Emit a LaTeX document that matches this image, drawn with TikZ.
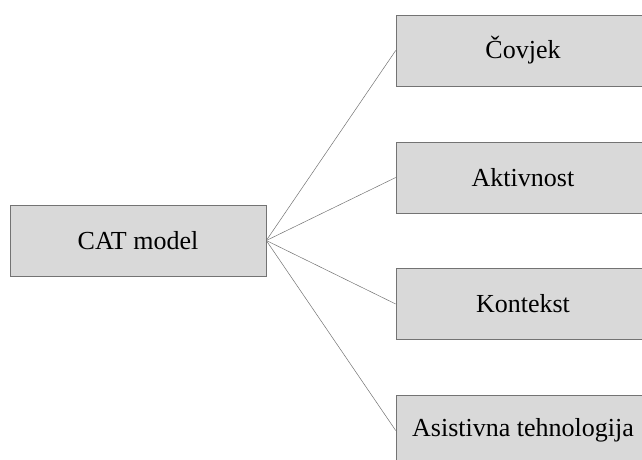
\documentclass[tikz,border=0pt]{standalone}
\usepackage{fontspec}
\setmainfont{Liberation Serif}
\tikzset{
  catbox/.style={draw=black!55, fill=black!15, line width=0.6pt, minimum width=256pt, minimum height=71pt, inner sep=0pt, font=\fontsize{26}{30}\selectfont},
  link/.style={draw=black!55, line width=0.5pt}
}
\begin{document}
\begin{tikzpicture}[x=1pt,y=-1pt]
	\useasboundingbox (0,0) rectangle (642,459);
	\node[catbox] (cat) at (138,240.5) {CAT model};
	\node[catbox, minimum width=254pt] (covjek) at (523,50.5) {Čovjek};
	\node[catbox, minimum width=254pt] (aktivnost) at (523,177.5) {Aktivnost};
	\node[catbox, minimum width=254pt] (kontekst) at (523,304) {Kontekst};
	\node[catbox, minimum width=254pt] (asistivna) at (523,430.5) {Asistivna tehnologija};
	\draw[link] (cat.east) -- (covjek.west);
	\draw[link] (cat.east) -- (aktivnost.west);
	\draw[link] (cat.east) -- (kontekst.west);
	\draw[link] (cat.east) -- (asistivna.west);
\end{tikzpicture}
\end{document}
